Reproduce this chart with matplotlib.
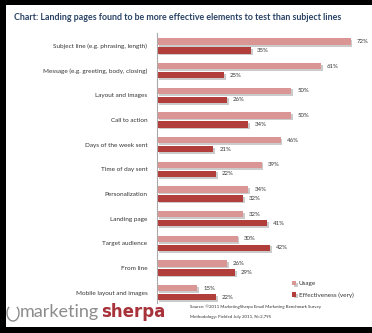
import matplotlib.pyplot as plt
import matplotlib.patches as mpatches
import matplotlib.patheffects as pe
import numpy as np

plt.rcParams['font.family'] = ['Lato', 'DejaVu Sans']

categories = ['Subject line (e.g. phrasing, length)', 'Message (e.g. greeting, body, closing)',
              'Layout and images', 'Call to action', 'Days of the week sent', 'Time of day sent',
              'Personalization', 'Landing page', 'Target audience', 'From line',
              'Mobile layout and images']
usage = [72, 61, 50, 50, 46, 39, 34, 32, 30, 26, 15]
effectiveness = [35, 25, 26, 34, 21, 22, 32, 41, 42, 29, 22]

c_usage = '#d99694'
c_eff = '#b23e3b'

W, H = 372, 333
fig = plt.figure(figsize=(W / 100, H / 100), dpi=100, facecolor='black')

# white page inside black frame
fig.patches.append(mpatches.Rectangle((6 / W, 6 / H), 1 - 6 / W, 1 - 11 / H,
                                      transform=fig.transFigure, facecolor='white',
                                      edgecolor='none', zorder=-10))

fig.text(14 / W, 1 - 17 / H,
         'Chart: Landing pages found to be more effective elements to test than subject lines',
         fontsize=6.4, fontweight='bold', color='#2b4466', va='center', ha='left')

ax = fig.add_axes([157 / W, 1 - 303 / H, (W - 157) / W, 270 / H])
ax.patch.set_alpha(0)
y = np.arange(len(categories))
shadow = [pe.SimplePatchShadow(offset=(1.2, -1.2), shadow_rgbFace='#999999', alpha=0.5), pe.Normal()]
b1 = ax.barh(y - 0.18, usage, height=0.26, color=c_usage, label='Usage', path_effects=shadow)
b2 = ax.barh(y + 0.18, effectiveness, height=0.26, color=c_eff, label='Effectiveness (very)',
             path_effects=shadow)

for bars in (b1, b2):
    for rect in bars:
        w = rect.get_width()
        ax.text(w + 2.2, rect.get_y() + rect.get_height() / 2, '%d%%' % w,
                fontsize=4.3, color='#333333', va='center', ha='left')

ax.set_xlim(0, 80)
ax.set_ylim(10.42, -0.53)
ax.set_yticks(y)
ax.set_yticklabels(categories, fontsize=4.6, color='#333333')
ax.tick_params(axis='y', length=0, pad=7)
ax.set_xticks([])
for s in ['top', 'right', 'bottom']:
    ax.spines[s].set_visible(False)
ax.spines['left'].set_color('#aaaaaa')
ax.spines['left'].set_linewidth(0.8)

ax.legend(loc='upper left', bbox_to_anchor=(289 / W, 1 - 278 / H), bbox_transform=fig.transFigure,
          fontsize=4.6, frameon=False, handlelength=0.6, handleheight=0.6, handletextpad=0.4,
          labelspacing=0.9, borderpad=0, labelcolor='#333333')

# footer: logo
fig.patches.append(mpatches.Arc((13 / W, 1 - 313 / H), 12 / W, 16 / H, theta1=120, theta2=420,
                                transform=fig.transFigure, color='#8c8c8c', lw=1.0))
fig.text(20 / W, 1 - 312 / H, 'marketing', fontsize=13, color='#8c8c8c', va='center', ha='left')
fig.text(101 / W, 1 - 312 / H, 'sherpa', fontsize=12, fontweight='bold', color='#a8323a',
         va='center', ha='left', family='DejaVu Sans')
fig.text(190 / W, 1 - 307 / H, 'Source: \u00a92011 MarketingSherpa Email Marketing Benchmark Survey',
         fontsize=3.2, color='#333333', va='center', ha='left')
fig.text(190 / W, 1 - 317 / H, 'Methodology: Fielded July 2011, N=2,795',
         fontsize=3.2, color='#333333', va='center', ha='left')

fig.savefig('out.png', dpi=100, facecolor='black')
